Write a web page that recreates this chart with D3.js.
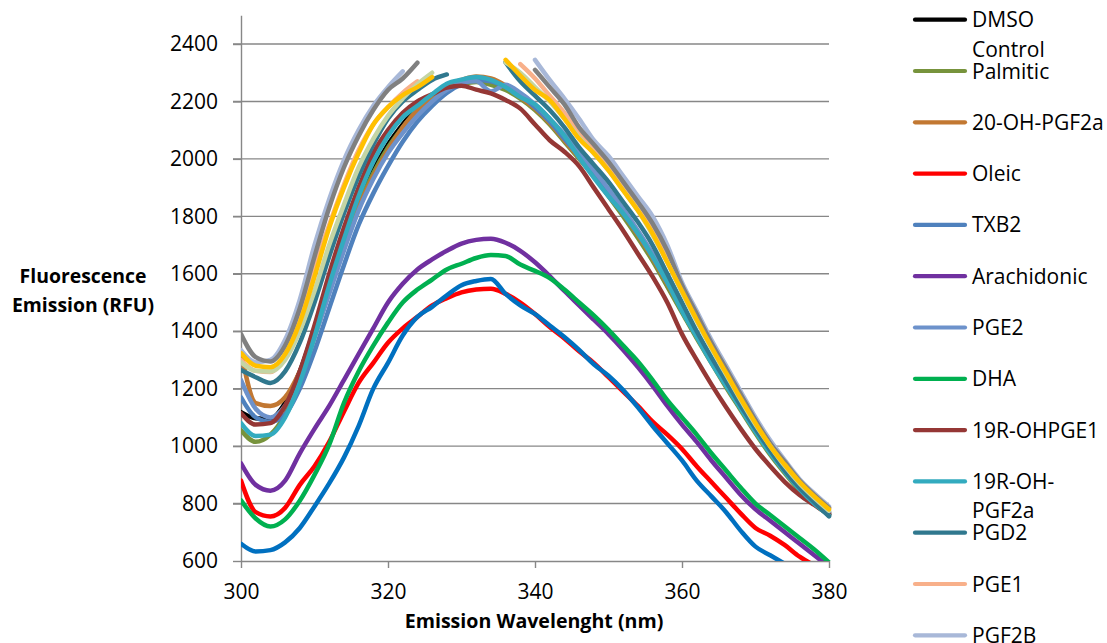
<!DOCTYPE html>
<html>
<head>
<meta charset="utf-8">
<script src="https://cdn.jsdelivr.net/npm/d3@7"></script>
<style>
  html, body { margin: 0; padding: 0; background: #fff; }
  svg { display: block; font-family: "Open Sans", "Liberation Sans", sans-serif; }
</style>
</head>
<body>
<svg id="chart" width="1107" height="643"></svg>
<script>
// ---- data ----
const wavelengths = [300,302,304,306,308,310,312,314,316,318,320,322,324,326,328,330,332,334,336,338,340,342,344,346,348,350,352,354,356,358,360,362,364,366,368,370,372,374,376,378,380];

const dmsoControl = [1118,1097,1095,1150,1260,1410,1570,1720,1850,1960,2050,2120,2180,2220,2250,2265,2270,2265,2245,2215,2175,2125,2065,2005,1945,1875,1805,1730,1650,1560,1470,1380,1295,1210,1130,1050,975,910,850,800,762];
const palmitic = [1055,1015,1040,1110,1230,1380,1540,1700,1840,1950,2040,2110,2170,2215,2245,2260,2268,2258,2240,2210,2170,2120,2060,2000,1940,1870,1800,1725,1645,1555,1465,1375,1290,1205,1125,1045,970,905,845,798,760];
const oh20Pgf2a = [1330,1150,1140,1170,1260,1390,1540,1690,1830,1940,2030,2110,2170,2220,2255,2275,2287,2280,2255,2215,2175,2125,2065,2005,1945,1880,1810,1735,1655,1565,1475,1385,1300,1215,1135,1055,980,915,855,805,768];
const oleic = [880,770,755,785,865,930,1015,1120,1220,1290,1360,1410,1450,1490,1515,1535,1545,1548,1530,1500,1460,1415,1375,1330,1290,1240,1190,1140,1085,1040,990,930,875,820,765,715,688,655,615,585,560];
const txb2 = [1170,1100,1085,1110,1200,1330,1480,1630,1770,1880,1975,2060,2130,2185,2230,2260,2276,2270,2250,2220,2180,2130,2070,2010,1945,1880,1810,1740,1660,1570,1480,1390,1300,1215,1135,1055,980,915,855,805,765];
const arachidonic = [940,865,845,880,975,1060,1140,1230,1320,1410,1500,1565,1615,1650,1680,1705,1718,1722,1708,1680,1640,1592,1540,1490,1440,1390,1335,1275,1210,1140,1075,1015,950,890,830,780,740,700,660,620,580];
const pge2 = [1230,1130,1100,1140,1240,1380,1530,1680,1820,1930,2020,2090,2150,2200,2240,2265,2270,2235,2258,2230,2190,2140,2085,2020,1960,1895,1825,1750,1670,1580,1490,1395,1305,1220,1140,1060,985,920,860,810,770];
const dha = [811,748,720,745,810,900,1005,1150,1260,1350,1430,1500,1545,1580,1615,1635,1655,1665,1662,1632,1610,1585,1545,1500,1455,1405,1350,1295,1230,1160,1100,1040,975,915,855,800,760,720,680,640,595];
const r19OhPge1 = [1115,1075,1080,1140,1260,1420,1600,1760,1900,2020,2100,2160,2200,2225,2248,2255,2241,2228,2205,2175,2120,2065,2025,1975,1900,1825,1750,1670,1590,1500,1390,1300,1215,1135,1060,990,930,875,830,795,762];
const r19OhPgf2a = [1080,1035,1040,1100,1220,1380,1560,1720,1870,1990,2080,2145,2185,2225,2262,2276,2285,2275,2250,2215,2190,2140,2080,2005,1935,1870,1810,1740,1660,1570,1470,1380,1290,1210,1130,1050,975,910,850,800,758];
const pgd2 = [1265,1240,1220,1260,1360,1500,1660,1810,1940,2050,2140,2200,2240,2275,2294,null,null,null,2336,2270,2220,2170,2110,2040,1980,1920,1850,1780,1700,1600,1500,1400,1310,1225,1140,1060,985,915,855,805,755];
const pge1 = [1300,1262,1258,1320,1450,1620,1770,1910,2030,2120,2180,2230,2270,null,null,null,null,null,null,2330,2280,2220,2160,2090,2030,1975,1905,1835,1755,1655,1550,1450,1355,1265,1175,1090,1010,940,880,830,785];
const pgf2b = [1334,1292,1300,1370,1510,1700,1860,1995,2100,2185,2250,2305,null,null,null,null,null,null,null,null,2345,2275,2210,2140,2065,2010,1940,1870,1800,1700,1570,1470,1370,1280,1190,1100,1020,950,885,835,790];
// series whose legend entries fall below the visible legend area
const series14 = [1390,1310,1295,1350,1480,1660,1830,1970,2080,2170,2240,2280,2335,null,null,null,null,null,null,null,2310,2250,2190,2110,2050,1990,1920,1850,1775,1680,1560,1460,1360,1270,1180,1090,1010,945,880,830,785];
const series15 = [1292,1262,1260,1300,1400,1540,1700,1840,1970,2070,2150,2210,2260,2300,null,null,null,null,2335,2300,2250,2200,2140,2075,2020,1960,1890,1820,1735,1640,1535,1435,1340,1250,1160,1075,1000,930,870,820,775];
const series16 = [1324,1280,1275,1320,1430,1590,1760,1900,2020,2120,2180,2222,2250,2285,null,null,null,null,2345,2290,2240,2205,2140,2070,2020,1960,1890,1820,1740,1640,1540,1440,1345,1255,1165,1080,1000,935,875,825,780];
const series17 = [660,633,638,665,715,790,870,960,1070,1200,1290,1385,1450,1485,1525,1560,1575,1582,1530,1490,1460,1420,1380,1335,1285,1245,1195,1135,1070,1010,950,880,825,770,705,650,620,590,560,535,510];

const seriesNames = ["DMSO Control","Palmitic","20-OH-PGF2a","Oleic","TXB2","Arachidonic","PGE2","DHA","19R-OHPGE1","19R-OH-PGF2a","PGD2","PGE1","PGF2B","","","",""];
const seriesValues = [dmsoControl,palmitic,oh20Pgf2a,oleic,txb2,arachidonic,pge2,dha,r19OhPge1,r19OhPgf2a,pgd2,pge1,pgf2b,series14,series15,series16,series17];
const seriesColors = ["#000000","#77933C","#C27832","#FF0000","#4F81BD","#7030A0","#6D92CB","#00B050","#953735","#33ABBF","#30788E","#F8B08A","#A8B8D8","#808080","#C4D5A4","#FFC000","#0070C0"];

const yTicks = [600,800,1000,1200,1400,1600,1800,2000,2200,2400];
const xTicks = [300,320,340,360,380];

// ---- layout ----
const svg = d3.select("#chart");
svg.append("rect").attr("width",1107).attr("height",643).attr("fill","#fff");

const x = d3.scaleLinear().domain([300,380]).range([241,829]);
const y = d3.scaleLinear().domain([600,2500]).range([561,15.3]);
const gridColor = "#878787";

// gridlines
svg.append("g").selectAll("line").data(yTicks.filter(d => d > 600)).join("line")
  .attr("x1", 233).attr("x2", 829)
  .attr("y1", d => y(d)).attr("y2", d => y(d))
  .attr("stroke", gridColor).attr("stroke-width", 1.4);

// y axis
const yAxis = d3.axisLeft(y).tickValues(yTicks).tickFormat(d3.format("d"))
  .tickSize(8).tickSizeOuter(0).tickPadding(15);
const gy = svg.append("g").attr("transform","translate(241,0)").call(yAxis);
gy.select(".domain").attr("stroke", gridColor).attr("stroke-width",1.4);
gy.selectAll(".tick line").attr("stroke", gridColor).attr("stroke-width",1.4);
gy.selectAll(".tick text").attr("font-family","Open Sans").attr("font-size",21).attr("fill","#000");

// x axis
const xAxis = d3.axisBottom(x).tickValues(xTicks).tickFormat(d3.format("d"))
  .tickSize(7).tickSizeOuter(0).tickPadding(16);
const gx = svg.append("g").attr("transform","translate(0,561)").call(xAxis);
gx.select(".domain").attr("stroke", gridColor).attr("stroke-width",1.4);
gx.selectAll(".tick line").attr("stroke", gridColor).attr("stroke-width",1.4);
gx.selectAll(".tick text").attr("font-family","Open Sans").attr("font-size",21).attr("fill","#000");

// clip
svg.append("clipPath").attr("id","plotclip").append("rect")
  .attr("x",241).attr("y",10).attr("width",600).attr("height",551);

const line = d3.line()
  .defined(d => d[1] != null)
  .x(d => x(d[0])).y(d => y(d[1]))
  .curve(d3.curveMonotoneX);

const gl = svg.append("g").attr("clip-path","url(#plotclip)");
seriesValues.forEach((vals, i) => {
  const pts = wavelengths.map((w, j) => [w, vals[j]]);
  gl.append("path").datum(pts)
    .attr("d", line)
    .attr("fill","none")
    .attr("stroke", seriesColors[i])
    .attr("stroke-width", 4.5)
    .attr("stroke-linejoin","round")
    .attr("stroke-linecap","round");
});

// axis titles
svg.append("text").attr("x",534).attr("y",628).attr("text-anchor","middle")
  .attr("font-weight","bold").attr("font-size",19.6).text("Emission Wavelenght (nm)");
const yt = svg.append("text").attr("text-anchor","middle").attr("font-weight","bold").attr("font-size",19.4);
yt.append("tspan").attr("x",83).attr("y",283).text("Fluorescence");
yt.append("tspan").attr("x",83).attr("y",312).text("Emission (RFU)");

// legend
const legend = svg.append("g");
const maxW = 133;
seriesNames.forEach((name, i) => {
  if (!name) return;
  const cy = 19.7 + i * 51.3;
  legend.append("line").attr("x1",915).attr("x2",965).attr("y1",cy).attr("y2",cy)
    .attr("stroke", seriesColors[i]).attr("stroke-width",4.2).attr("stroke-linecap","round");
  const t = legend.append("text").attr("x",972).attr("y",cy).attr("dy","0.36em")
    .attr("font-size",21).attr("fill","#000").text(name);
  if (t.node().getComputedTextLength() > maxW) {
    let cut = -1;
    for (let k = name.length - 1; k > 0; k--) {
      const ch = name[k];
      if (ch === " " || ch === "-") {
        const first = ch === " " ? name.slice(0,k) : name.slice(0,k+1);
        t.text(first);
        if (t.node().getComputedTextLength() <= maxW) { cut = k; break; }
      }
    }
    if (cut > 0) {
      const ch = name[cut];
      const first = ch === " " ? name.slice(0,cut) : name.slice(0,cut+1);
      const rest = name.slice(cut+1);
      t.text(null);
      t.append("tspan").attr("x",972).text(first);
      t.append("tspan").attr("x",972).attr("dy",29.5).text(rest);
    } else {
      t.text(name);
    }
  }
});
</script>
</body>
</html>
